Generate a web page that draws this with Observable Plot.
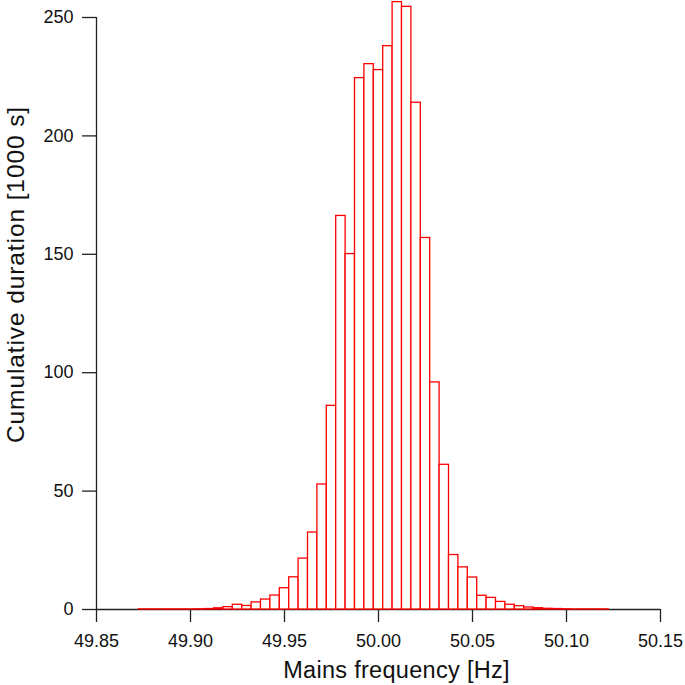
<!DOCTYPE html>
<html>
<head>
<meta charset="utf-8">
<script src="https://cdn.jsdelivr.net/npm/d3@7"></script>
<script src="https://cdn.jsdelivr.net/npm/@observablehq/plot@0.6"></script>
<style>
  html, body { margin: 0; padding: 0; background: #fff; }
  #chart svg { display: block; }
  .ylab text { letter-spacing: 0.9px; }
  .xlab text { letter-spacing: 0.3px; }
</style>
</head>
<body>
<div id="chart"></div>
<script>
// Bin centres (Hz) and cumulative duration (1000 s)
const freq = [
  49.875, 49.880, 49.885, 49.890, 49.895, 49.900, 49.905, 49.910, 49.915, 49.920,
  49.925, 49.930, 49.935, 49.940, 49.945, 49.950, 49.955, 49.960, 49.965, 49.970,
  49.975, 49.980, 49.985, 49.990, 49.995, 50.000, 50.005, 50.010, 50.015, 50.020,
  50.025, 50.030, 50.035, 50.040, 50.045, 50.050, 50.055, 50.060, 50.065, 50.070,
  50.075, 50.080, 50.085, 50.090, 50.095, 50.100, 50.105, 50.110, 50.115, 50.120
];
const duration = [
  0.05, 0.05, 0.05, 0.05, 0.05, 0.05, 0.1, 0.2, 0.5, 1.0,
  2.0, 1.5, 3.0, 4.2, 5.9, 9.0, 13.6, 21.5, 32.5, 52.8,
  86.0, 166.2, 150.1, 224.4, 230.3, 227.8, 237.9, 256.5, 254.5, 214.0,
  156.9, 95.9, 61.1, 23.0, 17.8, 13.5, 5.8, 4.9, 3.2, 2.0,
  1.4, 0.85, 0.55, 0.3, 0.2, 0.1, 0.05, 0.05, 0.05, 0.05
];
const binWidth = 0.005;
const xDomain = [49.85, 50.15];
const yDomain = [0, 250];
const xTicks = [49.85, 49.90, 49.95, 50.00, 50.05, 50.10, 50.15];
const yTicks = [0, 50, 100, 150, 200, 250];
const xLabel = "Mains frequency [Hz]";
const yLabel = "Cumulative duration [1000 s]";

const bins = freq.map((f, i) => ({x1: f - binWidth / 2, x2: f + binWidth / 2, y: duration[i]}));

const axisColor = "#222";
const font = "'Liberation Sans', Arial, Helvetica, sans-serif";

const chart = Plot.plot({
  width: 685,
  height: 685,
  marginLeft: 96,
  marginRight: 25,
  marginTop: 17,
  marginBottom: 76,
  style: {fontFamily: font, background: "#fff", overflow: "visible"},
  x: {domain: xDomain, ticks: xTicks, label: null},
  y: {domain: yDomain, ticks: yTicks, label: null},
  marks: [
    Plot.ruleX([xDomain[0]], {y1: yDomain[0], y2: yDomain[1], stroke: axisColor, strokeWidth: 1.3}),
    Plot.ruleY([yDomain[0]], {x1: xDomain[0], x2: xDomain[1], stroke: axisColor, strokeWidth: 1.3}),
    Plot.axisX({ticks: xTicks, tickFormat: d3.format(".2f"), tickSize: 13, tickPadding: 12,
      fontSize: 18, stroke: axisColor, strokeWidth: 1.3, fill: "#111", label: null}),
    Plot.axisY({ticks: yTicks, tickSize: 14, tickPadding: 9,
      fontSize: 18, stroke: axisColor, strokeWidth: 1.3, fill: "#111", label: null}),
    Plot.rectY(bins, {x1: "x1", x2: "x2", y: "y", fill: "#fff", stroke: "#ff0000", strokeWidth: 1.3}),
    Plot.text([xLabel], {frameAnchor: "bottom", dx: 18, dy: 61, textAnchor: "middle", lineAnchor: "middle",
      fontSize: 23.5, fill: "#111", className: "xlab"}),
    Plot.text([yLabel], {frameAnchor: "left", dx: -80, dy: -39, rotate: -90, textAnchor: "middle", lineAnchor: "middle",
      fontSize: 24.5, fill: "#111", className: "ylab"})
  ]
});
document.getElementById("chart").appendChild(chart);
</script>
</body>
</html>
